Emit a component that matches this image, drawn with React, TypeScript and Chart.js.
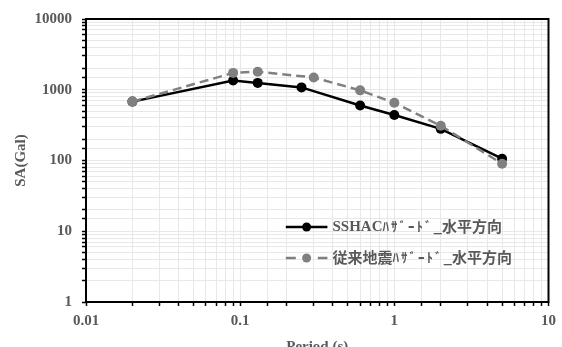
import React, { useEffect, useRef } from 'react';
import { Chart, registerables } from 'chart.js';

Chart.register(...registerables);

const sshacPeriods = [0.02, 0.09, 0.13, 0.25, 0.6, 1, 2, 5];
const sshacValues = [680, 1350, 1250, 1080, 600, 440, 280, 106];
const conventionalPeriods = [0.02, 0.09, 0.13, 0.3, 0.6, 1, 2, 5];
const conventionalValues = [680, 1730, 1800, 1490, 980, 655, 310, 90];
const seriesNames = ['SSHACﾊｻﾞｰﾄﾞ_水平方向', '従来地震ﾊｻﾞｰﾄﾞ_水平方向'];
const xTickLabels = ['0.01', '0.1', '1', '10'];
const yTickLabels = ['1', '10', '100', '1000', '10000'];
const xAxisTitle = 'Period (s)';
const yAxisTitle = 'SA(Gal)';

const serif = '"Liberation Serif", "Times New Roman", serif';
const textGray = '#595959';

const labelFor = (labels: string[]) => (v: number | string) => {
  const n = Number(v);
  const hit = labels.find((l) => Math.abs(Math.log10(Number(l)) - Math.log10(n)) < 1e-6);
  return hit ?? '';
};

const framePlugin = {
  id: 'frame',
  beforeDatasetsDraw(chart: any) {
    const { ctx, chartArea } = chart;
    ctx.save();
    ctx.strokeStyle = '#000';
    ctx.lineWidth = 2;
    ctx.strokeRect(chartArea.left, chartArea.top, chartArea.right - chartArea.left, chartArea.bottom - chartArea.top);
    ctx.restore();
  },
};

const legendPlugin = {
  id: 'insideLegend',
  afterDraw(chart: any) {
    const { ctx, chartArea } = chart;
    const w = chartArea.right - chartArea.left;
    const h = chartArea.bottom - chartArea.top;
    const x0 = chartArea.left + w * 0.432;
    const x1 = chartArea.left + w * 0.522;
    const xm = (x0 + x1) / 2;
    const xt = chartArea.left + w * 0.533;
    ctx.save();
    chart.data.datasets.forEach((ds: any, i: number) => {
      const y = chartArea.top + h * 0.735 + i * 31;
      ctx.strokeStyle = ds.borderColor;
      ctx.lineWidth = ds.borderWidth;
      ctx.setLineDash(ds.borderDash ? [10, 22] : []);
      ctx.beginPath();
      ctx.moveTo(x0, y);
      ctx.lineTo(x1, y);
      ctx.stroke();
      ctx.setLineDash([]);
      ctx.fillStyle = ds.pointBackgroundColor;
      ctx.beginPath();
      ctx.arc(xm, y, 4.5, 0, Math.PI * 2);
      ctx.fill();
      ctx.fillStyle = textGray;
      ctx.textBaseline = 'middle';
      ctx.textAlign = 'left';
      const runs: string[] =
        String(ds.label).match(/[A-Za-z0-9()]+|[\uFF61-\uFF9F]+|[^A-Za-z0-9()\uFF61-\uFF9F]+/g) || [];
      let x = xt;
      runs.forEach((r) => {
        const latin = /^[A-Za-z0-9()]+$/.test(r);
        const halfKana = /^[\uFF61-\uFF9F]+$/.test(r);
        if (latin) {
          ctx.font = 'bold 15px "Liberation Serif", "Times New Roman", serif';
          ctx.fillText(r, x, y);
          x += ctx.measureText(r).width;
        } else if (halfKana) {
          ctx.font = 'bold 13px "Noto Sans CJK JP", sans-serif';
          for (const ch of Array.from(r)) {
            ctx.fillText(ch, x, y - 0.5);
            x += ctx.measureText(ch).width + 2;
          }
        } else {
          ctx.font = 'bold 15px "Noto Sans CJK JP", sans-serif';
          ctx.fillText(r, x, y - 0.5);
          x += ctx.measureText(r).width;
        }
      });
    });
    ctx.restore();
  },
};

export default function App() {
  const ref = useRef<HTMLCanvasElement | null>(null);
  useEffect(() => {
    if (!ref.current) return;
    const chart = new Chart(ref.current, {
      type: 'line',
      data: {
        datasets: [
          {
            label: seriesNames[0],
            data: sshacPeriods.map((x, i) => ({ x, y: sshacValues[i] })),
            borderColor: '#000000',
            backgroundColor: '#000000',
            pointBackgroundColor: '#000000',
            pointBorderColor: '#000000',
            borderWidth: 2.5,
            pointRadius: 5,
            pointBorderWidth: 0,
            order: 1,
          },
          {
            label: seriesNames[1],
            data: conventionalPeriods.map((x, i) => ({ x, y: conventionalValues[i] })),
            borderColor: '#808080',
            backgroundColor: '#808080',
            pointBackgroundColor: '#808080',
            pointBorderColor: '#808080',
            borderWidth: 2.5,
            borderDash: [9, 5],
            pointRadius: 5,
            pointBorderWidth: 0,
            order: 0,
          },
        ],
      },
      options: {
        animation: false,
        responsive: false,
        devicePixelRatio: 1,
        layout: { padding: { left: 0, right: 9, top: 19, bottom: 0 } },
        plugins: { legend: { display: false }, tooltip: { enabled: false } },
        scales: {
          x: {
            type: 'logarithmic',
            min: 0.01,
            max: 10,
            afterFit: (s: any) => { s.height = 45; },
            grid: { color: '#e8e8e8', lineWidth: 1, tickColor: '#000', tickLength: 4, tickWidth: 1.5 },
            border: { display: false },
            ticks: {
              autoSkip: false,
              maxRotation: 0,
              padding: 6,
              color: textGray,
              font: { family: serif, size: 15, weight: 'bold' },
              callback: labelFor(xTickLabels),
            },
            title: {
              display: true,
              text: xAxisTitle,
              color: textGray,
              font: { family: serif, size: 15, weight: 'bold' },
              padding: { top: 0, bottom: -9 },
            },
          },
          y: {
            type: 'logarithmic',
            min: 1,
            max: 10000,
            afterFit: (s: any) => { s.width = 86; },
            grid: { color: '#e8e8e8', lineWidth: 1, tickColor: '#000', tickLength: 4, tickWidth: 1.5 },
            border: { display: false },
            ticks: {
              autoSkip: false,
              padding: 10,
              color: textGray,
              font: { family: serif, size: 15, weight: 'bold' },
              callback: labelFor(yTickLabels),
            },
            title: {
              display: true,
              text: yAxisTitle,
              color: textGray,
              font: { family: serif, size: 15, weight: 'bold' },
              padding: { top: 12, bottom: 0 },
            },
          },
        },
      } as any,
      plugins: [framePlugin, legendPlugin],
    });
    return () => chart.destroy();
  }, []);
  return (
    <div style={{ position: 'fixed', left: 0, top: 0, width: 562, height: 347, background: '#fff' }}>
      <canvas ref={ref} width={562} height={347} />
    </div>
  );
}
